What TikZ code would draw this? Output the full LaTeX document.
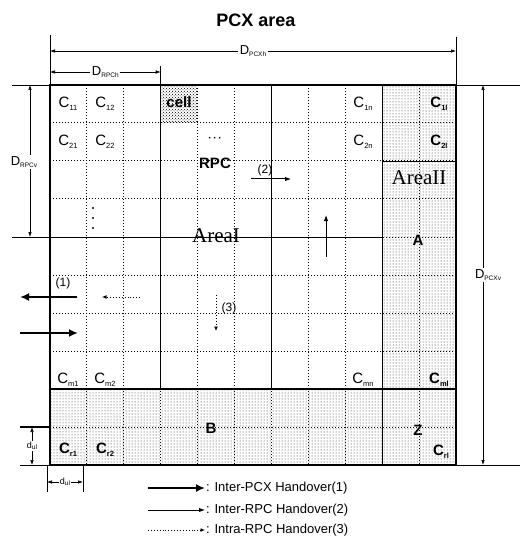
\documentclass[tikz,border=0pt]{standalone}
\usepackage{fontspec}
\setmainfont{Liberation Sans}
\newfontfamily\areafont{Liberation Serif}
\usetikzlibrary{patterns,arrows.meta}
\newcommand\sbs[1]{\raisebox{-0.35ex}{\fontsize{7.5}{8}\selectfont #1}}
\newcommand\dsb[1]{\raisebox{-0.3ex}{\fontsize{6.5}{7}\selectfont #1}}
\begin{document}
\begin{tikzpicture}[x=1pt,y=-1pt,
  celllab/.style={font=\fontsize{15}{16}\selectfont, inner sep=0pt},
  dimlab/.style={fill=white, inner sep=1.5pt, font=\fontsize{13}{14}\selectfont},
  dimline/.style={line width=0.6pt, {Latex[length=5pt,width=3.5pt]}-{Latex[length=5pt,width=3.5pt]}},
  extline/.style={line width=0.6pt},
  gridd/.style={dotted, line width=1pt},
  solidin/.style={line width=0.9pt},
  pcxarrow/.style={line width=2.4pt, -{Latex[length=9pt,width=8pt]}},
  rpcarrow/.style={line width=1pt, -{Latex[length=6pt,width=4.5pt]}},
  intraarrow/.style={dotted, line width=0.9pt, -{Latex[length=4.5pt,width=4pt]}},
  boldlab/.style={font=\bfseries\fontsize{15}{17}\selectfont, inner sep=0pt},
  arealab/.style={font=\areafont\fontsize{21}{23}\selectfont, inner sep=0pt},
  leglab/.style={font=\fontsize{13}{15}\selectfont, anchor=west, inner sep=1pt}
]
\useasboundingbox (0,0) rectangle (528,537);

% title
\node[font=\bfseries\fontsize{18}{20}\selectfont] (title) at (256,20) {PCX area};

% shaded regions
\fill[pattern=dots, pattern color=black!85] (382.2,85) rectangle (456,465);
\fill[pattern=dots, pattern color=black!85] (50,389) rectangle (382.2,465);
\fill[pattern=crosshatch dots, pattern color=black] (160.7,85) rectangle (197.6,123);

% dotted grid
\foreach \x in {86.9,123.8,160.7,197.6,234.5,271.5,308.4,345.3,382.2,419.1}
  \draw[gridd] (\x,85) -- (\x,465);
\foreach \y in {123,161,199,237,275,313,351,389,427}
  \draw[gridd] (50,\y) -- (456,\y);

% solid RPC boundaries
\draw[solidin] (160.7,85) -- (160.7,389);
\draw[solidin] (271.5,85) -- (271.5,389);
\draw[solidin] (382.2,85) -- (382.2,465);
\draw[solidin] (12,237) -- (382.2,237);
\draw[solidin] (382.2,161) -- (456,161);
\draw[line width=1.6pt] (50,389) -- (456,389);

% outer PCX border
\draw[line width=2.2pt] (50,85) rectangle (456,465);

% extension lines
\draw[extline] (12,85) -- (520,85);
\draw[extline] (20,465) -- (520,465);
\draw[extline] (50,35) -- (50,85);
\draw[extline] (456,37) -- (456,85);
\draw[extline] (160.7,66) -- (160.7,85);
\draw[line width=1.2pt] (20,427) -- (50,427);
\draw[extline] (47,465) -- (47,492);
\draw[extline] (83,465) -- (83,492);

% dimension lines
\coordinate (ph1) at (50,51);   \coordinate (ph2) at (456,51);
\draw[dimline] (ph1) -- node[dimlab] (dpcxh) {D\dsb{PCXh}} (ph2);
\coordinate (rh1) at (50,72);   \coordinate (rh2) at (160.7,72);
\draw[dimline] (rh1) -- node[dimlab] (drpch) {D\dsb{RPCh}} (rh2);
\coordinate (rv1) at (30,85);   \coordinate (rv2) at (30,237);
\draw[dimline] (rv1) -- (rv2);
\node[dimlab] (drpcv) at (24,162) {D\dsb{RPCv}};
\coordinate (pv1) at (483,85);  \coordinate (pv2) at (483,465);
\draw[dimline] (pv1) -- node[dimlab, xshift=5pt] (dpcxv) {D\dsb{PCXv}} (pv2);
\coordinate (uv1) at (32,427);  \coordinate (uv2) at (32,465);
\draw[dimline] (uv1) -- node[dimlab, font=\fontsize{9}{10}\selectfont, inner sep=0.5pt] (dulv) {d\dsb{ul}} (uv2);
\coordinate (uh1) at (47,482);  \coordinate (uh2) at (83,482);
\draw[dimline] (uh1) -- node[dimlab, font=\fontsize{9}{10}\selectfont, inner sep=0.5pt] (dulh) {d\dsb{ul}} (uh2);

% cell labels
\node[celllab] (c11) at (68,104) {C\sbs{11}};
\node[celllab] (c12) at (105,104) {C\sbs{12}};
\node[celllab] (c21) at (68,142) {C\sbs{21}};
\node[celllab] (c22) at (105,142) {C\sbs{22}};
\node[celllab] (c1n) at (363,104) {C\sbs{1n}};
\node[celllab] (c2n) at (363,142) {C\sbs{2n}};
\node[celllab, font=\bfseries\fontsize{15}{16}\selectfont] (c1l) at (439,104) {C\sbs{1l}};
\node[celllab, font=\bfseries\fontsize{15}{16}\selectfont] (c2l) at (439,142) {C\sbs{2l}};
\node[celllab] (cm1) at (68,380) {C\sbs{m1}};
\node[celllab] (cm2) at (105,380) {C\sbs{m2}};
\node[celllab] (cmn) at (363,380) {C\sbs{mn}};
\node[celllab, font=\bfseries\fontsize{15}{16}\selectfont] (cml) at (439,380) {C\sbs{ml}};
\node[celllab, font=\bfseries\fontsize{15}{16}\selectfont] (cr1) at (68,450) {C\sbs{r1}};
\node[celllab, font=\bfseries\fontsize{15}{16}\selectfont] (cr2) at (105,450) {C\sbs{r2}};
\node[celllab, font=\bfseries\fontsize{15}{16}\selectfont] (crl) at (441,452) {C\sbs{rl}};

% area labels
\node[boldlab] (cell) at (179,102) {cell};
\node[font=\bfseries\fontsize{10}{10}\selectfont, inner sep=0pt] (rpcdots) at (215,139) {·\,·\,·};
\node[boldlab] (rpc) at (215,163) {RPC};
\node[arealab] (areaI) at (216,236) {AreaI};
\node[arealab] (areaII) at (419,178) {AreaII};
\node[boldlab] (labA) at (418,240) {A};
\node[boldlab] (labB) at (211,428) {B};
\node[boldlab] (labZ) at (418,430) {Z};
\foreach \y in {208,218,228} \fill (93,\y) circle (1.1);

% handover arrows
\node[font=\fontsize{12}{14}\selectfont, inner sep=0pt] (l1) at (63,283) {(1)};
\coordinate (p1a) at (77,297);  \coordinate (p1b) at (20,297);
\draw[pcxarrow] (p1a) -- (p1b);
\coordinate (p2a) at (20,333);  \coordinate (p2b) at (78,333);
\draw[pcxarrow] (p2a) -- (p2b);
\node[font=\fontsize{12}{14}\selectfont, inner sep=0pt] (l2) at (265,170) {(2)};
\coordinate (r1a) at (251,179); \coordinate (r1b) at (291,179);
\draw[rpcarrow] (r1a) -- (r1b);
\coordinate (r2a) at (326,257); \coordinate (r2b) at (326,215);
\draw[rpcarrow] (r2a) -- (r2b);
\coordinate (i1a) at (140,297); \coordinate (i1b) at (102,297);
\draw[intraarrow] (i1a) -- (i1b);
\node[font=\fontsize{12}{14}\selectfont, inner sep=0pt] (l3) at (229,308) {(3)};
\coordinate (i2a) at (216,295); \coordinate (i2b) at (216,331);
\draw[intraarrow] (i2a) -- (i2b);

% legend
\node[leglab] (leg1) at (205,488) {: Inter-PCX Handover(1)};
\node[leglab] (leg2) at (205,510) {: Inter-RPC Handover(2)};
\node[leglab] (leg3) at (205,530) {: Intra-RPC Handover(3)};
\coordinate (g1) at (148,488);
\coordinate (g2) at (148,510);
\coordinate (g3) at (148,530);
\draw[pcxarrow, line width=2pt] (g1) -- (leg1.west);
\draw[rpcarrow] (g2) -- (leg2.west);
\draw[intraarrow] (g3) -- (leg3.west);
\end{tikzpicture}
\end{document}
